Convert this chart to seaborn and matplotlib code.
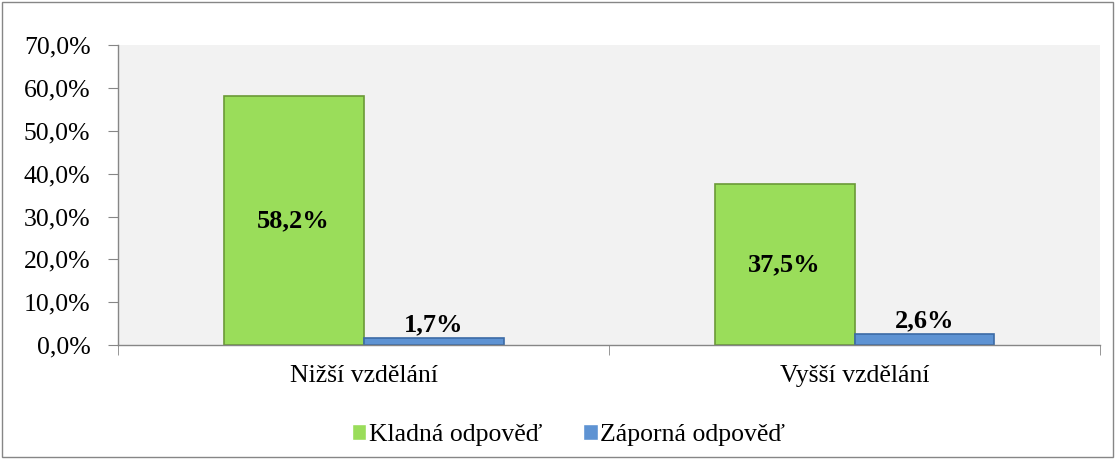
import pandas as pd
import matplotlib.pyplot as plt
import seaborn as sns
from matplotlib.patches import Rectangle
from matplotlib.ticker import FuncFormatter, MultipleLocator

# Data
kategorie = ['Nižší vzdělání', 'Vyšší vzdělání']
kladna = [58.2, 37.5]
zaporna = [1.7, 2.6]
serie = ['Kladná odpověď', 'Záporná odpověď']

df = pd.DataFrame({
    'kategorie': kategorie * 2,
    'odpoved': [serie[0]] * 2 + [serie[1]] * 2,
    'hodnota': kladna + zaporna,
})

sns.set_style('white')
plt.rcParams['font.family'] = ['Liberation Serif', 'DejaVu Serif']
plt.rcParams['text.color'] = 'black'
plt.rcParams['xtick.labelcolor'] = 'black'
plt.rcParams['ytick.labelcolor'] = 'black'

fig = plt.figure(figsize=(11.15, 4.59), dpi=100)
ax = fig.add_axes([0.106, 0.248, 0.8805, 0.654])
ax.set_facecolor('#F2F2F2')

barvy = ['#9ADD5A', '#5E93D3']
sns.barplot(data=df, x='kategorie', y='hodnota', hue='odpoved', palette=barvy,
            width=0.57, ax=ax, saturation=1, legend=True)

hrany = ['#6B9A37', '#3C6BA6']
for cont, hrana in zip(ax.containers, hrany):
    for b in cont:
        b.set_edgecolor(hrana)
        b.set_linewidth(1.2)

fmt = lambda v: f'{v:.1f}%'.replace('.', ',')
ax.bar_label(ax.containers[0], labels=[fmt(v) for v in kladna], label_type='center',
             fontsize=19, fontweight='bold', color='black')
ax.bar_label(ax.containers[1], labels=[fmt(v) for v in zaporna], label_type='edge',
             padding=1, fontsize=19, fontweight='bold', color='black')

ax.set_ylim(0, 70)
ax.set_xlim(-0.5, 1.5)
ax.yaxis.set_major_locator(MultipleLocator(10))
ax.yaxis.set_major_formatter(FuncFormatter(lambda v, p: f'{v:.1f}%'.replace('.', ',')))
ax.set_xlabel('')
ax.set_ylabel('')

for s in ['top', 'right']:
    ax.spines[s].set_visible(False)
for s in ['left', 'bottom']:
    ax.spines[s].set_color('#868686')
    ax.spines[s].set_linewidth(1)

ax.tick_params(axis='y', left=True, length=7, color='#868686', labelsize=18.5, pad=13)
ax.tick_params(axis='x', bottom=False, labelsize=18.5, pad=11)
ax.set_xticks([-0.5, 0.5, 1.5], minor=True)
ax.tick_params(axis='x', which='minor', bottom=True, length=7, color='#868686')

handles, labels = ax.get_legend_handles_labels()
ax.legend_.remove()
fig.legend(handles, labels, loc='center', bbox_to_anchor=(0.51, 0.052), ncol=2,
           frameon=False, fontsize=18.5, handlelength=0.55, handleheight=0.55,
           handletextpad=0.1, columnspacing=1.6, labelcolor='black')

fig.patches.append(Rectangle((0.002, 0.004), 0.996, 0.992, transform=fig.transFigure,
                             fill=False, edgecolor='#868686', linewidth=1))

plt.savefig('out.png', dpi=100)
